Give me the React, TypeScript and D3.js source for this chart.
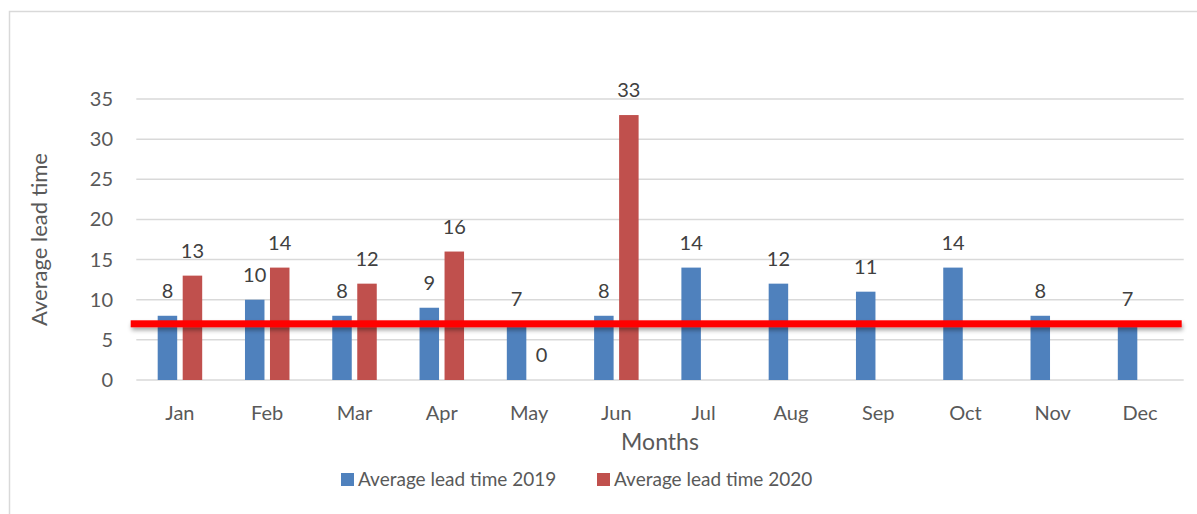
import React from 'react';
import { scaleBand, scaleLinear } from 'd3';

// data
const months = ['Jan', 'Feb', 'Mar', 'Apr', 'May', 'Jun', 'Jul', 'Aug', 'Sep', 'Oct', 'Nov', 'Dec'];
const lead2019 = [8, 10, 8, 9, 7, 8, 14, 12, 11, 14, 8, 7];
const lead2020: (number | null)[] = [13, 14, 12, 16, 0, 33, null, null, null, null, null, null];
const yTicks = [0, 5, 10, 15, 20, 25, 30, 35];
const targetValue = 7;
const seriesNames = ['Average lead time 2019', 'Average lead time 2020'];
const seriesColors = ['#4F81BD', '#C0504D'];

const App = () => {
  const width = 1197;
  const height = 514;
  const left = 136.3;
  const right = 1183.7;
  const top = 99;
  const bottom = 380;
  const font = 'Lato, "Open Sans", sans-serif';
  const textColor = '#595959';

  const xScale = scaleBand<string>().domain(months).range([left, right]).paddingInner(0).paddingOuter(0);
  const yScale = scaleLinear().domain([0, 35]).range([bottom, top]);

  const barWidth = 19.5;
  const barGap = 5.5;
  const groupWidth = barWidth * 2 + barGap;

  const series = [lead2019, lead2020];

  const bars = months.map((m, i) => {
    const cx = (xScale(m) as number) + xScale.bandwidth() / 2;
    return (
      <g key={m}>
        {series.map((vals, s) => {
          const v = vals[i];
          if (v === null || v === undefined) return null;
          const x = cx - groupWidth / 2 + s * (barWidth + barGap);
          return (
            <g key={s}>
              <rect x={x} y={yScale(v)} width={barWidth} height={bottom - yScale(v)} fill={seriesColors[s]} />
              <text
                x={x + barWidth / 2}
                y={yScale(v) - 18}
                textAnchor="middle"
                fontSize={20}
                fill="#404040">
                {v}
              </text>
            </g>
          );
        })}
      </g>
    );
  });

  const legendX = [341, 597];
  const lineY = yScale(targetValue);

  return (
    <svg
      width={width}
      height={height}
      style={{ position: 'absolute', left: 0, top: 0, fontFamily: font }}>
      <defs>
        <filter id="shadow" filterUnits="userSpaceOnUse" x={0} y={lineY - 20} width={width} height={40}>
          <feDropShadow dx="1" dy="3" stdDeviation="2" floodColor="#000" floodOpacity="0.35" />
        </filter>
      </defs>
      <rect x={0} y={0} width={width} height={height} fill="#fff" />
      {/* frame */}
      <path d={`M9.5,${height + 2} V11.5 H${width + 2}`} fill="none" stroke="#D9D9D9" strokeWidth={1.5} />

      {/* gridlines + y ticks */}
      {yTicks.map(t => (
        <g key={t}>
          <line x1={left} x2={right} y1={yScale(t)} y2={yScale(t)} stroke="#D9D9D9" strokeWidth={1.5} />
          <text x={113} y={yScale(t) + 7} textAnchor="end" fontSize={20} fill={textColor}>
            {t}
          </text>
        </g>
      ))}

      {bars}

      {/* average line */}
      <rect
        x={left - 5.6}
        y={lineY - 3.5}
        width={right - 2 - (left - 5.6)}
        height={7}
        fill="#FF0000"
        filter="url(#shadow)"
      />

      {/* x labels */}
      {months.map(m => (
        <text
          key={m}
          x={(xScale(m) as number) + xScale.bandwidth() / 2}
          y={420}
          textAnchor="middle"
          fontSize={20}
          fill={textColor}>
          {m}
        </text>
      ))}

      <text x={660} y={450} textAnchor="middle" fontSize={23} fill={textColor}>
        Months
      </text>
      <text
        transform={`translate(47,${(top + bottom) / 2}) rotate(-90)`}
        textAnchor="middle"
        fontSize={22}
        fill={textColor}>
        Average lead time
      </text>

      {/* legend */}
      {seriesNames.map((name, s) => (
        <g key={name} transform={`translate(${legendX[s]},473)`}>
          <rect width={13} height={13} fill={seriesColors[s]} />
          <text x={17} y={13} fontSize={19} fill={textColor}>
            {name}
          </text>
        </g>
      ))}
    </svg>
  );
};

export default App;
